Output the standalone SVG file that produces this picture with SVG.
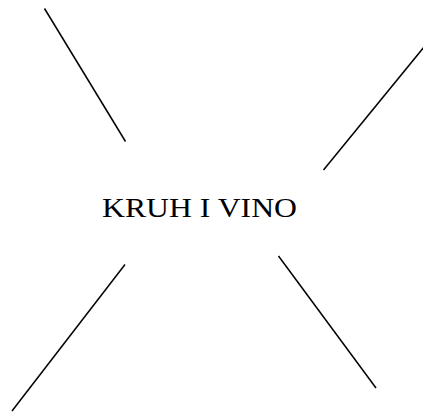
<svg xmlns="http://www.w3.org/2000/svg" width="423" height="412" viewBox="0 0 423 412">
<style>
.c{stroke:#000;stroke-width:1.5;fill:none}
.t{font-family:"Liberation Serif",serif;font-size:27.5px;fill:#000}
</style>
<rect width="423" height="412" fill="#fff"/>
<g id="connectors">
<line class="c" x1="44.5" y1="8.5" x2="125.5" y2="141.5"/>
<line class="c" x1="424" y1="47" x2="323.5" y2="170"/>
<line class="c" x1="125" y1="264.5" x2="12" y2="411"/>
<line class="c" x1="278.5" y1="256" x2="376" y2="388"/>
</g>
<g id="center">
<text class="t" x="102" y="216.7" textLength="195" lengthAdjust="spacingAndGlyphs">KRUH I VINO</text>
</g>
</svg>
